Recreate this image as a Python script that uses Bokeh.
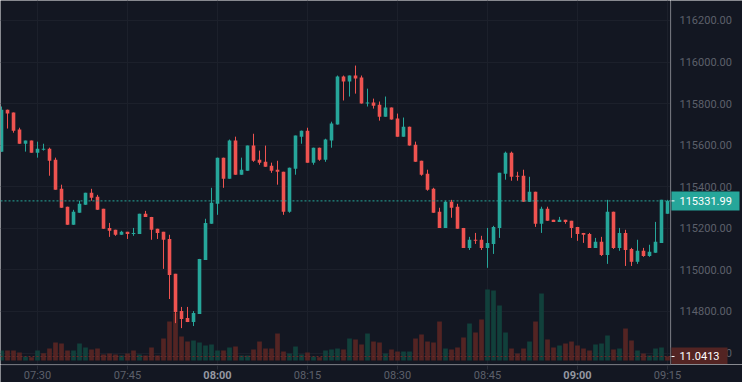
import pandas as pd
from bokeh.plotting import figure
from bokeh.layouts import row, column
from bokeh.models import Range1d, FixedTicker, Span
from bokeh.core.properties import value
from bokeh.embed import file_html
from bokeh.resources import INLINE

# ---------------- data (1-minute candles, 07:24 .. 09:15) ----------------
start_time = "2025-08-20 07:24"
opens = [115569, 115771, 115757, 115675, 115607, 115622, 115564, 115578, 115583, 115530,
         115390, 115304, 115217, 115275, 115313, 115371, 115352, 115294, 115202, 115193,
         115169, 115183, 115173, 115173, 115270, 115255, 115198, 115183, 115149, 114981,
         114802, 114769, 114749, 114788, 115048, 115222, 115318, 115540, 115439, 115622,
         115458, 115477, 115598, 115530, 115520, 115501, 115482, 115472, 115280, 115487,
         115641, 115670, 115516, 115588, 115530, 115622, 115699, 115930, 115906, 115935,
         115925, 115800, 115805, 115795, 115737, 115781, 115728, 115641, 115689, 115602,
         115525, 115463, 115390, 115280, 115202, 115328, 115304, 115202, 115106, 115145,
         115145, 115106, 115125, 115202, 115463, 115564, 115453, 115453, 115328, 115376,
         115222, 115294, 115241, 115231, 115241, 115236, 115207, 115178, 115173, 115106,
         115135, 115072, 115280, 115106, 115178, 115101, 115039, 115092, 115067, 115082,
         115130, 115270]
highs = [115786, 115771, 115757, 115684, 115622, 115622, 115617, 115607, 115588, 115540,
         115410, 115304, 115289, 115333, 115371, 115390, 115361, 115294, 115226, 115193,
         115188, 115183, 115202, 115270, 115284, 115255, 115198, 115183, 115169, 114981,
         114822, 114822, 114802, 115053, 115246, 115395, 115540, 115540, 115627, 115641,
         115540, 115598, 115655, 115574, 115598, 115516, 115525, 115472, 115492, 115646,
         115670, 115684, 115588, 115588, 115631, 115713, 115935, 115935, 115935, 115983,
         115935, 115872, 115824, 115810, 115834, 115781, 115752, 115733, 115689, 115617,
         115525, 115482, 115395, 115299, 115333, 115337, 115318, 115202, 115159, 115178,
         115164, 115202, 115212, 115467, 115569, 115569, 115472, 115482, 115448, 115376,
         115304, 115304, 115241, 115255, 115241, 115236, 115207, 115178, 115178, 115154,
         115159, 115337, 115280, 115202, 115193, 115106, 115145, 115106, 115121, 115231,
         115337, 115337]
lows = [115569, 115680, 115660, 115607, 115569, 115564, 115540, 115574, 115453, 115386,
        115299, 115217, 115217, 115275, 115313, 115333, 115289, 115198, 115159, 115164,
        115169, 115149, 115164, 115173, 115255, 115145, 115149, 115005, 114860, 114744,
        114720, 114749, 114730, 114788, 115048, 115222, 115265, 115395, 115439, 115458,
        115458, 115477, 115520, 115506, 115496, 115467, 115410, 115265, 115275, 115458,
        115607, 115516, 115506, 115525, 115520, 115588, 115699, 115815, 115834, 115848,
        115800, 115786, 115776, 115718, 115737, 115723, 115641, 115641, 115598, 115520,
        115453, 115381, 115275, 115202, 115202, 115251, 115198, 115106, 115096, 115125,
        115096, 115010, 115077, 115154, 115434, 115429, 115429, 115328, 115328, 115207,
        115178, 115236, 115231, 115231, 115222, 115154, 115140, 115130, 115106, 115106,
        115067, 115029, 115101, 115092, 115019, 115019, 115029, 115063, 115063, 115082,
        115130, 115270]
closes = [115771, 115752, 115670, 115607, 115622, 115564, 115583, 115583, 115525, 115386,
          115299, 115217, 115280, 115318, 115371, 115347, 115289, 115198, 115188, 115169,
          115183, 115173, 115178, 115270, 115255, 115193, 115178, 115145, 114976, 114798,
          114764, 114749, 114793, 115053, 115226, 115323, 115540, 115439, 115622, 115458,
          115482, 115598, 115525, 115516, 115496, 115477, 115472, 115280, 115492, 115646,
          115670, 115516, 115588, 115530, 115627, 115704, 115930, 115906, 115935, 115921,
          115800, 115805, 115790, 115737, 115781, 115723, 115641, 115689, 115598, 115520,
          115458, 115386, 115275, 115202, 115328, 115299, 115198, 115106, 115145, 115140,
          115106, 115130, 115207, 115467, 115564, 115448, 115448, 115328, 115376, 115222,
          115294, 115236, 115231, 115241, 115231, 115202, 115173, 115169, 115106, 115135,
          115072, 115280, 115106, 115178, 115096, 115039, 115092, 115067, 115087, 115135,
          115337, 115331.99]
volumes = [27.6, 27.6, 27.6, 22.1, 11.0, 9.1, 27.6, 20.2, 33.1, 49.7,
           46.9, 27.6, 27.6, 46.9, 35.9, 30.4, 33.1, 16.6, 19.3, 16.6,
           13.8, 19.3, 27.6, 16.6, 13.8, 35.9, 13.8, 60.7, 107.6, 132.5,
           66.2, 52.4, 55.2, 49.7, 41.4, 44.2, 27.6, 27.6, 35.9, 38.6,
           13.8, 13.8, 30.4, 52.4, 33.1, 33.1, 74.5, 24.8, 19.3, 38.6,
           16.6, 22.1, 11.0, 9.1, 27.6, 30.4, 33.1, 30.4, 60.7, 58.0,
           44.2, 74.5, 52.4, 49.7, 19.3, 30.4, 24.8, 24.8, 24.8, 60.7,
           71.8, 52.4, 49.7, 107.6, 33.1, 30.4, 35.9, 63.5, 102.1, 77.3,
           113.2, 196.0, 193.2, 151.8, 77.3, 33.1, 19.3, 33.1, 52.4, 107.6,
           184.9, 58.0, 35.9, 41.4, 46.9, 52.4, 41.4, 33.1, 27.6, 44.2,
           46.9, 69.0, 30.4, 33.1, 88.3, 55.2, 27.6, 19.3, 13.8, 33.1,
           35.9, 11.0413]
# volume bar side as seen in the picture (u = up colour, d = down colour)
volume_side = ("udddududdd" "dduuuddddd" "uddudddddd" "dduuuuudud" "uudddddduu"
               "ududuuudud" "duddudduud" "ddddudddud" "duuuudddud" "uddudddddu"
               "uududduduu" "ud")
price_ticks = [114600, 114800, 115000, 115200, 115400, 115600, 115800, 116000, 116200]
time_ticks = ["07:30", "07:45", "08:00", "08:15", "08:30", "08:45", "09:00", "09:15"]

# ---------------- styling ----------------
BG = "#131722"
GRID = "#1c202b"
AXIS = "#2a2e39"
TXT = "#5d606b"
UP = "#26a69a"
DOWN = "#ef5350"
VUP = "#11403b"
VDOWN = "#532423"
FONT = "Roboto"
CHART_W, SCALE_W, PANE_H, AXIS_H = 670, 72, 364, 18

times = pd.date_range(start_time, periods=len(opens), freq="1min")
day = start_time.split(" ")[0]
MIN = pd.Timedelta(minutes=1)
t0 = pd.Timestamp(day + " " + time_ticks[0])
tick_times = [pd.Timestamp(day + " " + s) for s in time_ticks]
tick_ms = [t.value // 10**6 for t in tick_times]

t_start, t_end = t0 - 6.17 * MIN, t0 + 105.5 * MIN
time_range = Range1d(t_start, t_end)
# time scale runs under the price scale too (same minutes-per-pixel)
time_range_full = Range1d(t_start, t_end + (t_end - t_start) * SCALE_W / CHART_W)
price_range = Range1d(114545, 116296)
vol_range = Range1d(-11.04, 993.6)


def pane(w, h, xr, yr):
    f = figure(width=w, height=h, output_backend="svg", toolbar_location=None,
               x_axis_location=None, y_axis_location=None, x_range=xr, y_range=yr,
               min_border_left=0, min_border_top=0, min_border_right=0, min_border_bottom=0,
               background_fill_color=BG, border_fill_color=BG, outline_line_color=None)
    return f


# ---------------- main chart ----------------
p = pane(CHART_W, PANE_H, time_range, price_range)
p.extra_y_ranges = {"vol": vol_range}
p.xgrid.ticker = FixedTicker(ticks=tick_ms)
p.ygrid.ticker = FixedTicker(ticks=price_ticks)
p.grid.grid_line_color = GRID

vcol = [VUP if s == "u" else VDOWN for s in volume_side]
p.vbar(x=times, width=0.78 * 60000, top=volumes, bottom=0, y_range_name="vol",
       fill_color=vcol, line_color=None)

ccol = [UP if c >= o else DOWN for o, c in zip(opens, closes)]
p.segment(x0=times, y0=lows, x1=times, y1=highs, line_color=ccol, line_width=1)
p.vbar(x=times, width=0.6 * 60000,
       top=[max(o, c) for o, c in zip(opens, closes)],
       bottom=[min(o, c) for o, c in zip(opens, closes)],
       fill_color=ccol, line_color=None)

p.add_layout(Span(location=closes[-1], dimension="width", line_color=UP,
                  line_dash="2 2", line_width=1))
p.add_layout(Span(location=volumes[-1], dimension="width", line_color="#6b2b2b",
                  line_dash="2 2", line_width=1, y_range_name="vol"))

# ---------------- price scale (right) ----------------
s = pane(SCALE_W, PANE_H, Range1d(0, SCALE_W), price_range)
s.extra_y_ranges = {"vol": vol_range}
s.grid.visible = False
s.add_layout(Span(location=0.5, dimension="height", line_color=AXIS, line_width=1))

s.text(x=0, y=price_ticks, text=[f"{v:.2f}" for v in price_ticks], x_offset=9,
       text_color=TXT, text_font=value(FONT), text_font_size=value("11px"),
       text_align="left", text_baseline="middle")

s.rect(x=34.5, y=closes[-1], width=69, height=19, height_units="screen",
       fill_color=UP, line_color=None)
s.segment(x0=0, y0=closes[-1], x1=4, y1=closes[-1], line_color="#ffffff", line_width=1)
s.text(x=0, y=closes[-1], text=[f"{closes[-1]:.2f}"], x_offset=9,
       text_color="#ffffff", text_font=value(FONT), text_font_size=value("11px"),
       text_align="left", text_baseline="middle")

s.rect(x=28.5, y=volumes[-1], width=57, height=18, height_units="screen",
       fill_color=VDOWN, line_color=None, y_range_name="vol")
s.segment(x0=0, y0=volumes[-1], x1=4, y1=volumes[-1], line_color="#ffffff",
          line_width=1, y_range_name="vol")
s.text(x=0, y=volumes[-1], text=[f"{volumes[-1]:.4f}"], x_offset=9, y_range_name="vol",
       text_color="#ffffff", text_font=value(FONT), text_font_size=value("11px"),
       text_align="left", text_baseline="middle")

# ---------------- time scale (bottom) ----------------
a = pane(CHART_W + SCALE_W, AXIS_H, time_range_full, Range1d(0, AXIS_H))
a.grid.visible = False
a.segment(x0=[t_start], y0=AXIS_H - 0.5, x1=[t_end], y1=AXIS_H - 0.5,
          line_color=AXIS, line_width=1)
a.segment(x0=tick_times, y0=AXIS_H - 1, x1=tick_times, y1=AXIS_H - 5,
          line_color=AXIS, line_width=1)
minor_idx = [i for i, s_ in enumerate(time_ticks) if not s_.endswith(":00")]
hour_idx = [i for i, s_ in enumerate(time_ticks) if s_.endswith(":00")]
a.text(x=[tick_times[i] for i in minor_idx], y=7, text=[time_ticks[i] for i in minor_idx],
       text_color=TXT, text_font=value(FONT), text_font_size=value("11px"),
       text_align="center", text_baseline="middle")
a.text(x=[tick_times[i] for i in hour_idx], y=7, text=[time_ticks[i] for i in hour_idx],
       text_color="#9598a1", text_font=value(FONT), text_font_size=value("11px"),
       text_font_style="bold", text_align="center", text_baseline="middle")

layout = column(row(p, s, spacing=0), a, spacing=0)
open("out.html", "w").write(file_html(layout, INLINE))
